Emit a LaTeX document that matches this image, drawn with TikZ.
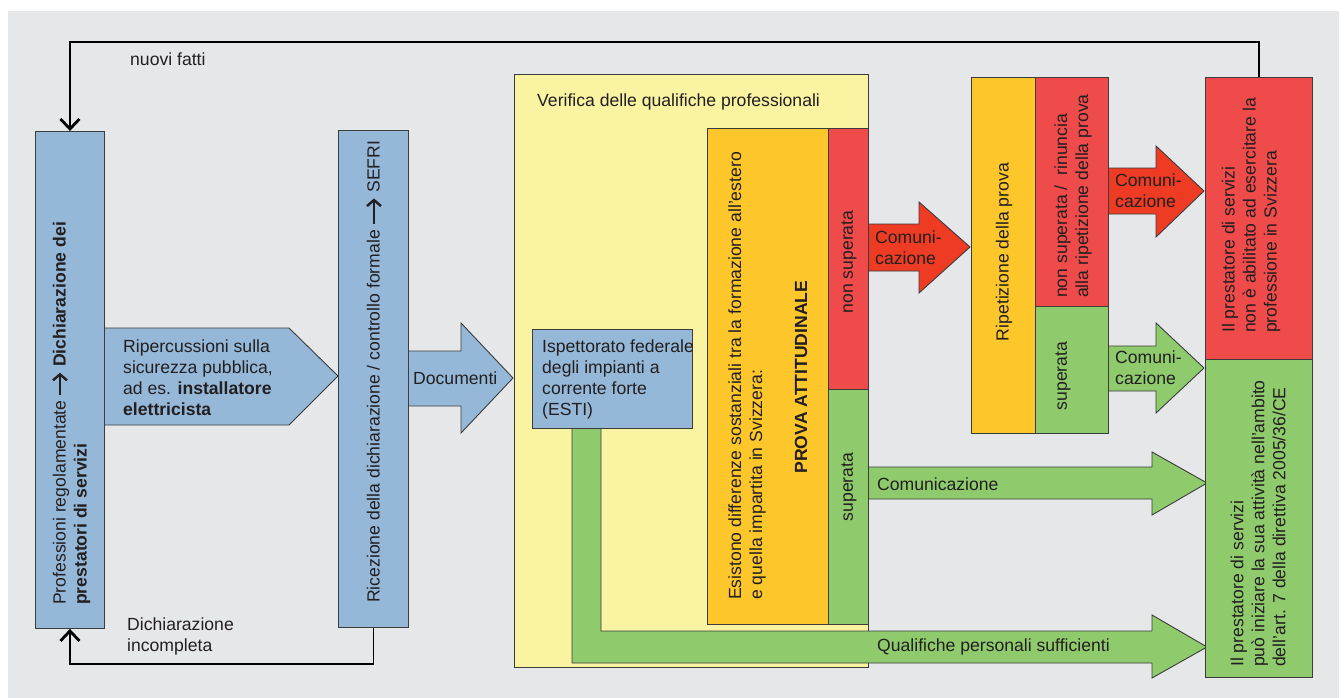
\documentclass[tikz,border=0pt]{standalone}
\usepackage{fontspec}
\setmainfont{Liberation Sans}
\usetikzlibrary{arrows.meta}
\pgfdeclarelayer{layzero}
\pgfdeclarelayer{layone}
\pgfsetlayers{layzero,layone,main}
\definecolor{bgG}{HTML}{E6E7E9}
\definecolor{blueF}{HTML}{95B8D9}
\definecolor{yelF}{HTML}{FAF4A2}
\definecolor{oraF}{HTML}{FDC72B}
\definecolor{redF}{HTML}{EF4B4B}
\definecolor{redA}{HTML}{EE3B24}
\definecolor{grnF}{HTML}{8FCB6D}
\definecolor{linec}{HTML}{3C3C3C}
\definecolor{txtc}{HTML}{231F20}
\newcommand{\fs}{\fontsize{17.6}{21}\selectfont}
\newcommand{\tarr}[1]{\tikz[baseline=-0.6ex,x=1pt,y=1pt]\draw[line width=1.4pt,-{Straight Barb[length=6pt,width=14pt,line width=2.4pt]}] (0,0)--(#1,0);}
\begin{document}
\begin{tikzpicture}[x=1pt,y=-1pt,
  box/.style={draw=linec, line width=0.9pt, inner sep=0, anchor=north west},
  barrow/.style={draw=linec, line width=0.9pt},
  txt/.style={inner sep=0, text=txtc, font=\fs},
  conn/.style={draw=black, line width=1.4pt, -{Straight Barb[length=10pt,width=19pt,line width=2.8pt]}}]
\useasboundingbox (0,0) rectangle (1344,698);
\begin{pgfonlayer}{layzero}
  \fill[white] (0,0) rectangle (1344,698);
  \fill[bgG] (8,11) rectangle (1339,698);
  \node[box, fill=yelF, minimum width=354, minimum height=593] (verif) at (514,74) {};
\end{pgfonlayer}
% boxes
\node[box, fill=blueF, minimum width=69, minimum height=497] (decl) at (35,131) {};
\node[box, fill=blueF, minimum width=70, minimum height=497] (ric) at (338,130) {};
\node[box, fill=blueF, minimum width=160, minimum height=99] (esti) at (532,329) {};
\node[box, fill=oraF, minimum width=121, minimum height=496] (prova) at (707,128) {};
\node[box, fill=redF, minimum width=40, minimum height=261] (nsA) at (828,128) {};
\node[box, fill=grnF, minimum width=40, minimum height=235] (supA) at (828,389) {};
\node[box, fill=oraF, minimum width=64, minimum height=356] (rip) at (971,77) {};
\node[box, fill=redF, minimum width=73, minimum height=229] (nsB) at (1035,77) {};
\node[box, fill=grnF, minimum width=73, minimum height=127] (supB) at (1035,306) {};
\node[box, fill=redF, minimum width=107, minimum height=282] (nok) at (1205,77) {};
\node[box, fill=grnF, minimum width=107, minimum height=318] (ok) at (1205,359) {};
% block arrows
\begin{pgfonlayer}{layone}
  \path[barrow, fill=blueF] (104,328) -- (289,328) -- (338,376) -- (289,425) -- (104,425);
  \path[barrow, fill=blueF] (408,351) -- (461,351) -- (461,323) -- (513,378) -- (461,433) -- (461,406) -- (408,406);
  \path[barrow, fill=grnF] (572,428) -- (572,663) -- (1152,663) -- (1152,678) -- (1207,647) -- (1152,615) -- (1152,631) -- (601,631) -- (601,428);
  \path[barrow, fill=redA] (868,224) -- (919,224) -- (919,202) -- (970,247) -- (919,293) -- (919,271) -- (868,271);
  \path[barrow, fill=grnF] (868,467) -- (1152,467) -- (1152,452) -- (1207,483) -- (1152,515) -- (1152,499) -- (868,499);
  \path[barrow, fill=redA] (1108,168) -- (1156,168) -- (1156,146) -- (1204,191) -- (1156,237) -- (1156,214) -- (1108,214);
  \path[barrow, fill=grnF] (1108,346) -- (1156,346) -- (1156,323) -- (1204,368) -- (1156,413) -- (1156,391) -- (1108,391);
\end{pgfonlayer}
% connectors
\draw[conn] (nok.north) -- ++(0,-35) -| (decl.north);
\draw[conn] (ric.south) -- ++(0,36) -| (decl.south);
% texts
\node[txt, anchor=west] (tnuovi) at (130,59) {nuovi fatti};
\node[txt, anchor=west, align=left] (tinc) at (127,636) {Dichiarazione\\incompleta};
\node[txt, anchor=west, align=left] (trip) at (123,378) {Ripercussioni sulla\\sicurezza pubblica,\\ad es. \textbf{installatore}\\\textbf{elettricista}};
\node[txt, anchor=west] (tdoc) at (413,378) {Documenti};
\node[txt, anchor=west] (tver) at (537,102) {Verifica delle qualifiche professionali};
\node[txt, anchor=west, align=left] (testi) at (542,379) {Ispettorato federale\\degli impianti a\\corrente forte\\(ESTI)};
\node[txt, rotate=90, anchor=west, align=left] (tdecl) at (71,605) {Professioni regolamentate \tarr{22} \textbf{Dichiarazione dei}\\\textbf{prestatori di servizi}};
\node[txt, rotate=90, anchor=west] (tric) at (374,603) {Ricezione della dichiarazione / controllo formale \tarr{26} SEFRI};
\node[txt, rotate=90, anchor=west, align=left] (tprova) at (747,600) {Esistono differenze sostanziali tra la formazione all'estero\\e quella impartita in Svizzera:};
\node[txt, rotate=90, font=\fs\bfseries] (tpa) at (801,377) {PROVA ATTITUDINALE};
\node[txt, rotate=90] (tnsA) at (849,262) {non superata};
\node[txt, rotate=90] (tsupA) at (849,487) {superata};
\node[txt, rotate=90] (trip2) at (1004,252) {Ripetizione della prova};
\node[txt, rotate=90, anchor=west, align=left] (tnsB) at (1073,298) {non superata /\ \ rinuncia\\alla ripetizione della prova};
\node[txt, rotate=90] (tsupB) at (1063,376) {superata};
\node[txt, rotate=90, anchor=west, align=left] (tnok) at (1251,333) {Il prestatore di servizi\\non è abilitato ad esercitare la\\professione in Svizzera};
\node[txt, rotate=90, anchor=west, align=left] (tok) at (1258,667) {Il prestatore di servizi\\può iniziare la sua attività nell'ambito\\dell'art. 7 della direttiva 2005/36/CE};
\node[txt, anchor=west, align=left] (tc1) at (875,248) {Comuni-\\cazione};
\node[txt, anchor=west, align=left] (tc2) at (1115,191) {Comuni-\\cazione};
\node[txt, anchor=west, align=left] (tc3) at (1115,368) {Comuni-\\cazione};
\node[txt, anchor=west] (tc4) at (877,484) {Comunicazione};
\node[txt, anchor=west] (tqual) at (877,647) {Qualifiche personali sufficienti};
\end{tikzpicture}
\end{document}
